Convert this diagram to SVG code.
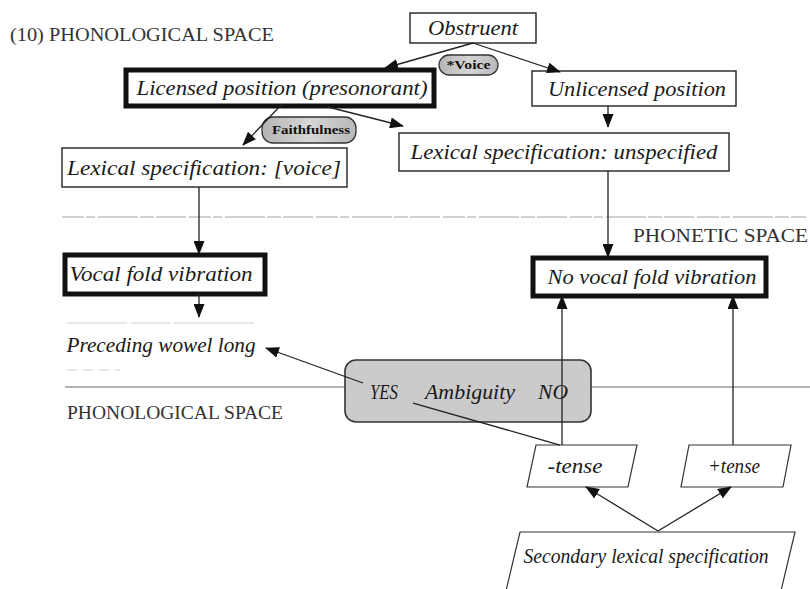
<svg xmlns="http://www.w3.org/2000/svg" width="810" height="589" viewBox="0 0 810 589">
  <defs>
    <marker id="arrow" viewBox="0 0 14 11" refX="13" refY="5.5" markerWidth="14" markerHeight="11" markerUnits="userSpaceOnUse" orient="auto">
      <path d="M0,0 L14,5.5 L0,11 Z" fill="#111"/>
    </marker>
    <linearGradient id="pillFill" x1="0" y1="0" x2="1" y2="0">
      <stop offset="0" stop-color="#b4b4b4"/>
      <stop offset="0.5" stop-color="#d6d6d6"/>
      <stop offset="1" stop-color="#b8b8b8"/>
    </linearGradient>
  </defs>
  <style>
    .box { fill: #fff; stroke: #222; stroke-width: 1.4; }
    .thick { fill: #fff; stroke: #111; stroke-width: 5; }
    .para { fill: #fff; stroke: #333; stroke-width: 1.2; }
    .pill { fill: url(#pillFill); stroke: #333; stroke-width: 1.3; }
    .label { font-family: "Liberation Serif", "DejaVu Serif", serif; font-style: italic; font-size: 20px; fill: #1a1a1a; text-anchor: middle; }
    .small { font-family: "Liberation Serif", "DejaVu Serif", serif; font-weight: bold; font-size: 12px; fill: #111; text-anchor: middle; }
    .space { font-family: "Liberation Serif", "DejaVu Serif", serif; font-size: 18px; fill: #333; }
    .edge { fill: none; stroke: #222; stroke-width: 1.3; }
    .divider { fill: none; stroke: #999; stroke-width: 1.5; }
    .faint { fill: none; stroke: #d2d2d2; stroke-width: 1.2; }
  </style>

  <!-- region labels and space dividers -->
  <g id="spaces">
    <text class="space" x="10" y="41" textLength="264" lengthAdjust="spacingAndGlyphs">(10)  PHONOLOGICAL SPACE</text>
    <line x1="62" y1="217" x2="806" y2="217" stroke="#c4c4c4" stroke-width="1.4" stroke-dasharray="22 2 9 3 40 2 14 2 30 3"/>
    <text class="space" x="633" y="242" textLength="175" lengthAdjust="spacingAndGlyphs">PHONETIC SPACE</text>
    <line class="faint" x1="67" y1="323" x2="263" y2="323" stroke-dasharray="60 4 40 3 80"/>
    <line class="faint" x1="67" y1="370" x2="120" y2="370" stroke-dasharray="10 6"/>
    <line class="divider" x1="65" y1="387" x2="810" y2="387"/>
    <text class="space" x="67" y="419" textLength="216" lengthAdjust="spacingAndGlyphs">PHONOLOGICAL SPACE</text>
  </g>

  <g id="obstruent">
    <rect class="box" x="410" y="13" width="126" height="30"/>
    <text class="label" x="473" y="35" textLength="90" lengthAdjust="spacingAndGlyphs">Obstruent</text>
  </g>

  <g id="voice-constraint">
    <rect class="pill" x="439" y="55" width="59" height="20" rx="10"/>
    <text class="small" x="468.5" y="69" textLength="44" lengthAdjust="spacingAndGlyphs">*Voice</text>
  </g>

  <g id="licensed">
    <rect class="thick" x="126" y="70" width="308" height="36"/>
    <text class="label" x="282" y="95" textLength="291" lengthAdjust="spacingAndGlyphs">Licensed position (presonorant)</text>
  </g>

  <g id="unlicensed">
    <rect class="box" x="532" y="71" width="204" height="35"/>
    <text class="label" x="637" y="96" textLength="178" lengthAdjust="spacingAndGlyphs">Unlicensed position</text>
  </g>

  <g id="faithfulness">
    <rect class="pill" x="262" y="117" width="94" height="26" rx="11"/>
    <text class="small" x="311" y="134" font-size="13" textLength="78" lengthAdjust="spacingAndGlyphs">Faithfulness</text>
  </g>

  <g id="lex-voice">
    <rect class="box" x="62" y="148" width="285" height="39"/>
    <text class="label" x="204" y="175" textLength="274" lengthAdjust="spacingAndGlyphs">Lexical specification: [voice]</text>
  </g>

  <g id="lex-unspecified">
    <rect class="box" x="399" y="133" width="330" height="38"/>
    <text class="label" x="564" y="159" textLength="307" lengthAdjust="spacingAndGlyphs">Lexical specification: unspecified</text>
  </g>

  <g id="vocal-fold">
    <rect class="thick" x="65" y="255" width="200" height="39"/>
    <text class="label" x="161" y="281" textLength="183" lengthAdjust="spacingAndGlyphs">Vocal fold vibration</text>
  </g>

  <g id="no-vocal-fold">
    <rect class="thick" x="533" y="258" width="233" height="38" stroke-width="4"/>
    <text class="label" x="652" y="284" textLength="209" lengthAdjust="spacingAndGlyphs">No vocal fold vibration</text>
  </g>

  <g id="preceding-vowel">
    <text class="label" x="161" y="352" textLength="189" lengthAdjust="spacingAndGlyphs">Preceding wowel long</text>
  </g>

  <g id="ambiguity">
    <rect x="345" y="360" width="246" height="62" rx="11" fill="#cbcbcb" stroke="#333" stroke-width="1.6"/>
    <text class="label" x="384" y="399" textLength="28" lengthAdjust="spacingAndGlyphs">YES</text>
    <text class="label" x="470" y="399" textLength="90" lengthAdjust="spacingAndGlyphs">Ambiguity</text>
    <text class="label" x="553" y="399" textLength="30" lengthAdjust="spacingAndGlyphs">NO</text>
  </g>

  <g id="minus-tense">
    <polygon class="para" points="536,445 637,445 628,487 527,487"/>
    <text class="label" x="575" y="473" font-size="18" textLength="55" lengthAdjust="spacingAndGlyphs">-tense</text>
  </g>

  <g id="plus-tense">
    <polygon class="para" points="689,445 791,445 783,487 681,487"/>
    <text class="label" x="734" y="473" font-size="18" textLength="52" lengthAdjust="spacingAndGlyphs">+tense</text>
  </g>

  <g id="secondary">
    <polygon class="para" points="520,532 795,532 780,595 505,595"/>
    <text class="label" x="646" y="563" font-size="18" fill="#555" textLength="245" lengthAdjust="spacingAndGlyphs">Secondary lexical specification</text>
  </g>

  <!-- connectors -->
  <g id="connectors">
    <path class="edge" d="M473,43 L385,68" marker-end="url(#arrow)"/>
    <path class="edge" d="M473,43 L560,72" marker-end="url(#arrow)"/>
    <path class="edge" d="M608,106 L608,127" marker-end="url(#arrow)"/>
    <path class="edge" d="M282,104 L243,145" marker-end="url(#arrow)"/>
    <path class="edge" d="M328,107 L403,126" marker-end="url(#arrow)"/>
    <path class="edge" d="M199,187 L199,254" marker-end="url(#arrow)"/>
    <path class="edge" d="M608,171 L608,257" marker-end="url(#arrow)"/>
    <path class="edge" d="M199,294 L199,317" marker-end="url(#arrow)"/>
    <path class="edge" d="M363,383 L266,348" marker-end="url(#arrow)"/>
    <path class="edge" d="M413,403 L560,445"/>
    <path class="edge" d="M562,445 L562,296" marker-end="url(#arrow)"/>
    <path class="edge" d="M733,445 L733,296" marker-end="url(#arrow)"/>
    <path class="edge" d="M658,531 L586,487" marker-end="url(#arrow)"/>
    <path class="edge" d="M658,531 L731,487" marker-end="url(#arrow)"/>
  </g>
</svg>
